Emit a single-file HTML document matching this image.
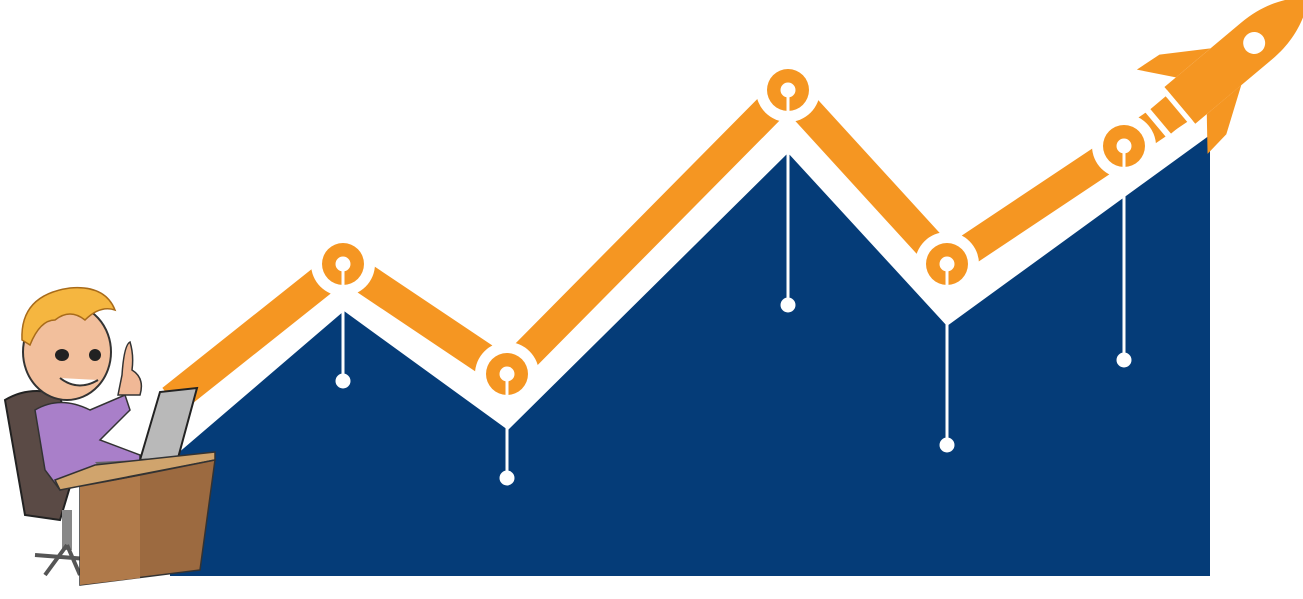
<!DOCTYPE html>
<html><head><meta charset="utf-8"><style>html,body{margin:0;padding:0;background:#fff;width:1303px;height:599px;overflow:hidden}</style></head>
<body>
<svg width="1303" height="599" viewBox="0 0 1303 599" xmlns="http://www.w3.org/2000/svg">
<polygon points="170,576 170,460 344,311 508,430 788,153 947,326 1210,135 1210,576" fill="#053c78"/>
<polyline points="172,400 343,264 507,374 788,90 947,264 1124,146 1180,108" fill="none" stroke="#f59622" stroke-width="31" stroke-linejoin="miter"/>
<!-- rocket -->
<g transform="translate(1222,70) rotate(-40)">
  <path d="M-55,-24 L45,-24 C80,-24 100,-10 115,0 C100,10 80,24 45,24 L-55,24 Z" fill="#f59622"/>
  <path d="M-40,-24 L-65,-55 L-38,-52 L5,-24 Z" fill="#f59622"/>
  <path d="M-40,24 L-65,55 L-38,52 L5,24 Z" fill="#f59622"/>
  <circle cx="42" cy="0" r="11" fill="#fff"/>
  <rect x="-80" y="-16" width="20" height="32" fill="#f59622"/>
  <rect x="-60" y="-20" width="5" height="40" fill="#fff"/>
  <rect x="-86" y="-20" width="6" height="40" fill="#fff"/>
</g>
<g fill="#fff">
  <circle cx="343" cy="264" r="32"/><circle cx="507" cy="374" r="32"/><circle cx="788" cy="90" r="32"/><circle cx="947" cy="264" r="32"/><circle cx="1124" cy="146" r="32"/>
</g>
<g fill="#f59622">
  <circle cx="343" cy="264" r="21"/><circle cx="507" cy="374" r="21"/><circle cx="788" cy="90" r="21"/><circle cx="947" cy="264" r="21"/><circle cx="1124" cy="146" r="21"/>
</g>
<g fill="#fff" stroke="#fff" stroke-width="3">
  <circle cx="343" cy="264" r="6"/><line x1="343" y1="264" x2="343" y2="381"/><circle cx="343" cy="381" r="6"/>
  <circle cx="507" cy="374" r="6"/><line x1="507" y1="374" x2="507" y2="478"/><circle cx="507" cy="478" r="6"/>
  <circle cx="788" cy="90" r="6"/><line x1="788" y1="90" x2="788" y2="305"/><circle cx="788" cy="305" r="6"/>
  <circle cx="947" cy="264" r="6"/><line x1="947" y1="264" x2="947" y2="445"/><circle cx="947" cy="445" r="6"/>
  <circle cx="1124" cy="146" r="6"/><line x1="1124" y1="146" x2="1124" y2="360"/><circle cx="1124" cy="360" r="6"/>
</g>
<g>
  <path d="M5,400 Q30,385 60,395 L75,470 L60,520 L25,515 Z" fill="#5a4a45" stroke="#222" stroke-width="2"/>
  <rect x="62" y="510" width="10" height="40" fill="#888"/>
  <path d="M35,555 L100,560 M67,545 L45,575 M67,545 L80,575" stroke="#555" stroke-width="4"/>
  <path d="M35,410 Q60,395 90,410 L125,395 L130,410 L100,440 L140,455 L140,470 L85,470 L60,490 L45,470 Z" fill="#a97fc9" stroke="#333" stroke-width="1.5"/>
  <path d="M118,395 L122,375 Q124,345 130,342 Q134,355 132,370 Q145,378 140,395 Z" fill="#f0b896" stroke="#333" stroke-width="1.5"/>
  <ellipse cx="67" cy="352" rx="44" ry="48" fill="#f2bf9c" stroke="#333" stroke-width="2"/>
  <path d="M22,340 Q20,295 70,288 Q105,285 115,310 Q100,305 85,320 Q70,308 55,320 Q40,320 30,345 Z" fill="#f5b640" stroke="#a86b1a" stroke-width="1.5"/>
  <ellipse cx="62" cy="355" rx="7" ry="6" fill="#222"/><ellipse cx="95" cy="355" rx="6" ry="6" fill="#222"/>
  <path d="M60,378 Q78,392 98,380" fill="#fff" stroke="#333" stroke-width="2"/>
  <path d="M140,460 L160,392 L197,388 L178,458 Z" fill="#b9b9b9" stroke="#222" stroke-width="2"/>
  <path d="M95,462 L180,458 L178,466 L100,468 Z" fill="#666"/>
  <path d="M55,480 L95,465 L215,452 L215,460 L60,490 Z" fill="#d0a46d" stroke="#333" stroke-width="1.5"/>
  <path d="M80,487 L215,460 L200,570 L80,585 Z" fill="#9c6a40" stroke="#333" stroke-width="1.5"/>
  <path d="M80,487 L140,476 L140,578 L80,585 Z" fill="#b07a4a"/>
</g>
</svg>
</body></html>
